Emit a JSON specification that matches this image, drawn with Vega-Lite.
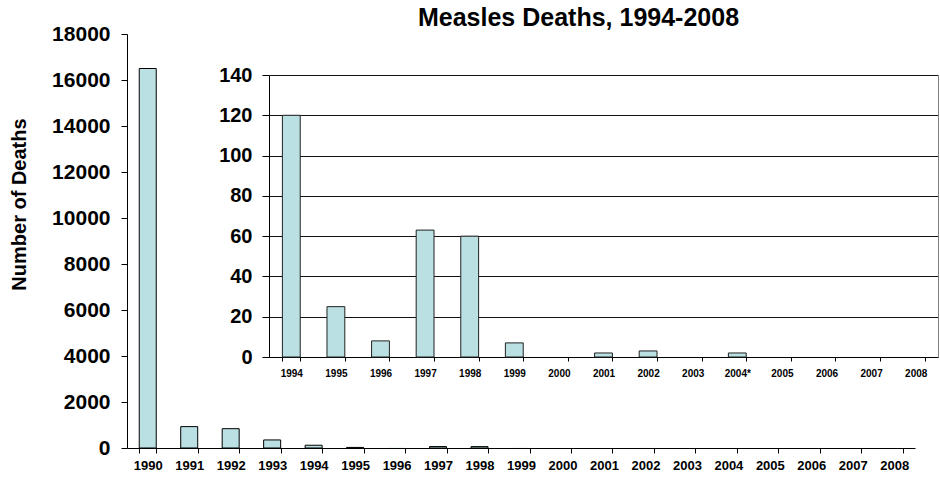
{
  "$schema": "https://vega.github.io/schema/vega-lite/v6.json",
  "width": 811,
  "height": 414,
  "autosize": {"type": "none"},
  "padding": {"left": 127, "top": 34, "right": 2, "bottom": 29},
  "background": "white",
  "config": {
    "view": {"stroke": null},
    "font": "Liberation Sans",
    "axis": {"labelFont": "Liberation Sans", "titleFont": "Liberation Sans", "labelColor": "#000", "titleColor": "#000", "domainColor": "#000", "tickColor": "#000"}
  },
  "title": {"text": "Measles Deaths, 1994-2008", "fontSize": 25, "fontWeight": "bold", "font": "Liberation Sans", "color": "#000", "anchor": "middle", "frame": "group", "dx": 46, "offset": -8},
  "datasets": {
    "all": [
      {"year": "1990", "deaths": 16500},
      {"year": "1991", "deaths": 930},
      {"year": "1992", "deaths": 840},
      {"year": "1993", "deaths": 350},
      {"year": "1994", "deaths": 120},
      {"year": "1995", "deaths": 25},
      {"year": "1996", "deaths": 8},
      {"year": "1997", "deaths": 63},
      {"year": "1998", "deaths": 60},
      {"year": "1999", "deaths": 7},
      {"year": "2000", "deaths": 0},
      {"year": "2001", "deaths": 2},
      {"year": "2002", "deaths": 3},
      {"year": "2003", "deaths": 0},
      {"year": "2004", "deaths": 2},
      {"year": "2005", "deaths": 0},
      {"year": "2006", "deaths": 0},
      {"year": "2007", "deaths": 0},
      {"year": "2008", "deaths": 0}
    ],
    "recent": [
      {"label": "1994", "deaths": 120},
      {"label": "1995", "deaths": 25},
      {"label": "1996", "deaths": 8},
      {"label": "1997", "deaths": 63},
      {"label": "1998", "deaths": 60},
      {"label": "1999", "deaths": 7},
      {"label": "2000", "deaths": 0},
      {"label": "2001", "deaths": 2},
      {"label": "2002", "deaths": 3},
      {"label": "2003", "deaths": 0},
      {"label": "2004*", "deaths": 2},
      {"label": "2005", "deaths": 0},
      {"label": "2006", "deaths": 0},
      {"label": "2007", "deaths": 0},
      {"label": "2008", "deaths": 0}
    ]
  },
  "layer": [
    {
      "data": {"name": "all"},
      "mark": {"type": "bar", "fill": "#BAE0E3", "strokeWidth": 1},
      "encoding": {
        "x": {"field": "year", "type": "nominal", "sort": null,
          "scale": {"range": [0, 788], "paddingInner": 0.59, "paddingOuter": 0.295},
          "axis": {"orient": "bottom", "title": null, "labelAngle": 0, "labelFontSize": 13, "labelFontWeight": "bold", "tickBand": "extent", "tickSize": 5, "labelPadding": 6, "grid": false}},
        "y": {"field": "deaths", "type": "quantitative",
          "scale": {"domain": [0, 18000], "nice": false, "zero": true, "range": [414, 0]},
          "axis": {"orient": "left", "title": "Number of Deaths", "values": [0, 2000, 4000, 6000, 8000, 10000, 12000, 14000, 16000, 18000], "format": "d", "labelFontSize": 21, "labelFontWeight": "bold", "tickSize": 6, "labelPadding": 11, "titleFontSize": 20, "titleFontWeight": "bold", "titlePadding": 22, "titleY": 170, "grid": false}},
        "stroke": {"condition": {"test": "datum.deaths > 10", "value": "#000"}, "value": "transparent"}
      }
    },
    {
      "data": {"name": "recent"},
      "mark": {"type": "bar", "fill": "#BAE0E3", "strokeWidth": 1},
      "encoding": {
        "x": {"field": "label", "type": "nominal", "sort": null,
          "scale": {"range": [142, 811], "paddingInner": 0.6, "paddingOuter": 0.3},
          "axis": {"orient": "bottom", "offset": -91, "title": null, "labelAngle": 0, "labelFontSize": 10, "labelFontWeight": "bold", "tickBand": "extent", "tickSize": 4, "labelPadding": 7, "grid": false}},
        "y": {"field": "deaths", "type": "quantitative",
          "scale": {"domain": [0, 140], "nice": false, "zero": true, "range": [323, 41]},
          "axis": {"orient": "left", "offset": -142, "title": null, "values": [0, 20, 40, 60, 80, 100, 120, 140], "format": "d", "labelFontSize": 20, "labelFontWeight": "bold", "tickSize": 7, "labelPadding": 10, "grid": true, "gridColor": "#111", "gridOpacity": 1, "gridWidth": 1}},
        "stroke": {"condition": {"test": "datum.deaths > 0", "value": "#222"}, "value": "transparent"}
      }
    },
    {
      "data": {"name": "recent"},
      "mark": {"type": "bar", "opacity": 0},
      "encoding": {
        "x": {"field": "label", "type": "nominal", "sort": null,
          "scale": {"range": [142, 811], "paddingInner": 0.6, "paddingOuter": 0.3},
          "axis": null},
        "y": {"field": "deaths", "type": "quantitative",
          "scale": {"domain": [0, 140], "nice": false, "zero": true, "range": [323, 41]},
          "axis": {"orient": "right", "title": null, "labels": false, "ticks": false, "grid": false, "domainColor": "#808080", "values": [0, 140]}}
      }
    }
  ],
  "resolve": {"scale": {"x": "independent", "y": "independent"}, "axis": {"x": "independent", "y": "independent"}}
}
